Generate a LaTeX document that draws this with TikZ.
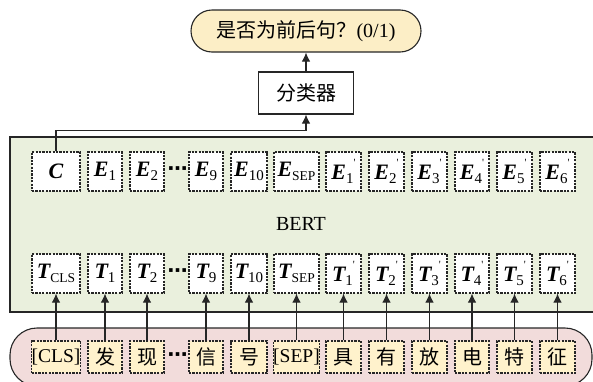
\documentclass[tikz,border=0pt]{standalone}
\usepackage{fontspec}
\setmainfont{Liberation Serif}
\newfontfamily\cjk{Noto Sans CJK SC}
\newfontfamily\symf{DejaVu Sans}
\usetikzlibrary{arrows.meta}
\definecolor{lc}{HTML}{262626}
\definecolor{ellfill}{HTML}{FCEEC6}
\definecolor{tokfill}{HTML}{FFF2CC}
\definecolor{bertgreen}{HTML}{EAF0DD}
\definecolor{pinkfill}{HTML}{F2DCDB}
\newcommand\bv[1]{{\fontsize{22}{24}\selectfont\bfseries\itshape #1}}
\newcommand\sbs[1]{\raisebox{-0.2em}{\fontsize{15}{15}\selectfont #1}}
\newcommand\sbl[1]{\raisebox{-0.2em}{\fontsize{13.5}{14}\selectfont #1}}
\newcommand\prm{\raisebox{0.65em}{\fontsize{11}{11}\selectfont\textquotesingle}}
\newcommand\dotsym{{\symf\bfseries ⋯}}
\begin{document}
\begin{tikzpicture}[x=1pt,y=-1pt,
  every node/.style={font=\fontsize{20}{24}\selectfont, text=black},
  hbox/.style={draw=lc, fill=white, line width=1.1pt, dash pattern=on 2.2pt off 1.2pt, inner sep=0pt, minimum height=39pt},
  tokbox/.style={hbox, fill=tokfill, minimum height=32pt},
  solidbox/.style={draw=lc, line width=1.1pt, inner sep=0pt},
  arr/.style={-{Latex[length=9pt,width=8.5pt]}, line width=1.1pt, draw=lc}]
\useasboundingbox (0,0) rectangle (593,381);
\clip (0,0) rectangle (593,381);
% background panels
\draw[fill=bertgreen, line width=1.1pt, draw=lc] (10,137) rectangle (620,312);
\draw[fill=pinkfill, line width=1.1pt, draw=lc, rounded corners=27pt] (10,328) rectangle (592,386);
% top
\node[solidbox, fill=ellfill, rounded corners=21pt, minimum width=230pt, minimum height=42pt] (q) at (306,31) {{\cjk 是否为前后句？}(0/1)};
\node[solidbox, fill=white, minimum width=95pt, minimum height=42pt] (cls) at (306,93) {{\cjk 分类器}};
\draw[arr] (cls.north) -- (q.south);
% E row
\node[hbox, minimum width=48pt] (C) at (56,171.5) {\bv{C}};
\node[hbox, minimum width=34pt] (E1) at (105,171.5) {\bv{E}\sbs{1}};
\node[hbox, minimum width=34pt] (E2) at (147,171.5) {\bv{E}\sbs{2}};
\node[inner sep=0pt] (edots) at (177.5,171.5) {\dotsym};
\node[hbox, minimum width=34pt] (E9) at (206,171.5) {\bv{E}\sbs{9}};
\node[hbox, minimum width=36pt] (E10) at (249,171.5) {\bv{E}\sbs{10}};
\node[hbox, minimum width=45pt] (Esep) at (296.5,171.5) {\bv{E}\sbl{SEP}};
\node[hbox, minimum width=35pt] (E1p) at (343.5,171.5) {\bv{E}\sbs{1}\prm};
\node[hbox, minimum width=35pt] (E2p) at (386.5,171.5) {\bv{E}\sbs{2}\prm};
\node[hbox, minimum width=35pt] (E3p) at (429.5,171.5) {\bv{E}\sbs{3}\prm};
\node[hbox, minimum width=34pt] (E4p) at (472,171.5) {\bv{E}\sbs{4}\prm};
\node[hbox, minimum width=35pt] (E5p) at (514.5,171.5) {\bv{E}\sbs{5}\prm};
\node[hbox, minimum width=35pt] (E6p) at (557.5,171.5) {\bv{E}\sbs{6}\prm};
\draw[arr] (C.north) -- ++(0,-21) -| (cls.south);
% BERT label
\node (bert) at (301,224) {BERT};
% T row
\node[hbox, minimum width=48pt] (T0) at (56,273.5) {\bv{T}\sbl{CLS}};
\node[hbox, minimum width=34pt] (T1) at (105,273.5) {\bv{T}\sbs{1}};
\node[hbox, minimum width=34pt] (T2) at (147,273.5) {\bv{T}\sbs{2}};
\node[inner sep=0pt] (tdots) at (177.5,273.5) {\dotsym};
\node[hbox, minimum width=34pt] (T9) at (206,273.5) {\bv{T}\sbs{9}};
\node[hbox, minimum width=36pt] (T10) at (249,273.5) {\bv{T}\sbs{10}};
\node[hbox, minimum width=45pt] (Tsep) at (296.5,273.5) {\bv{T}\sbl{SEP}};
\node[hbox, minimum width=35pt] (T1p) at (343.5,273.5) {\bv{T}\sbs{1}\prm};
\node[hbox, minimum width=35pt] (T2p) at (386.5,273.5) {\bv{T}\sbs{2}\prm};
\node[hbox, minimum width=35pt] (T3p) at (429.5,273.5) {\bv{T}\sbs{3}\prm};
\node[hbox, minimum width=34pt] (T4p) at (472,273.5) {\bv{T}\sbs{4}\prm};
\node[hbox, minimum width=35pt] (T5p) at (514.5,273.5) {\bv{T}\sbs{5}\prm};
\node[hbox, minimum width=35pt] (T6p) at (557.5,273.5) {\bv{T}\sbs{6}\prm};
% token row
\node[tokbox, minimum width=48pt, font=\fontsize{19.5}{22}\selectfont] (w0) at (56,357) {[CLS]};
\node[tokbox, minimum width=34pt] (w1) at (105,357) {\cjk 发};
\node[tokbox, minimum width=34pt] (w2) at (147,357) {\cjk 现};
\node[inner sep=0pt] (wdots) at (177.5,357) {\dotsym};
\node[tokbox, minimum width=34pt] (w9) at (206,357) {\cjk 信};
\node[tokbox, minimum width=36pt] (w10) at (249,357) {\cjk 号};
\node[tokbox, minimum width=45pt, font=\fontsize{19.5}{22}\selectfont] (wsep) at (296.5,357) {[SEP]};
\node[tokbox, minimum width=35pt] (w1p) at (343.5,357) {\cjk 具};
\node[tokbox, minimum width=35pt] (w2p) at (386.5,357) {\cjk 有};
\node[tokbox, minimum width=35pt] (w3p) at (429.5,357) {\cjk 放};
\node[tokbox, minimum width=34pt] (w4p) at (472,357) {\cjk 电};
\node[tokbox, minimum width=35pt] (w5p) at (514.5,357) {\cjk 特};
\node[tokbox, minimum width=35pt] (w6p) at (557.5,357) {\cjk 征};
% arrows tokens -> T
\foreach \a/\b in {w0/T0,w1/T1,w2/T2,w9/T9,w10/T10,wsep/Tsep,w1p/T1p,w2p/T2p,w3p/T3p,w4p/T4p,w5p/T5p,w6p/T6p}
  \draw[arr] (\a.north) -- (\b.south);
\end{tikzpicture}
\end{document}
